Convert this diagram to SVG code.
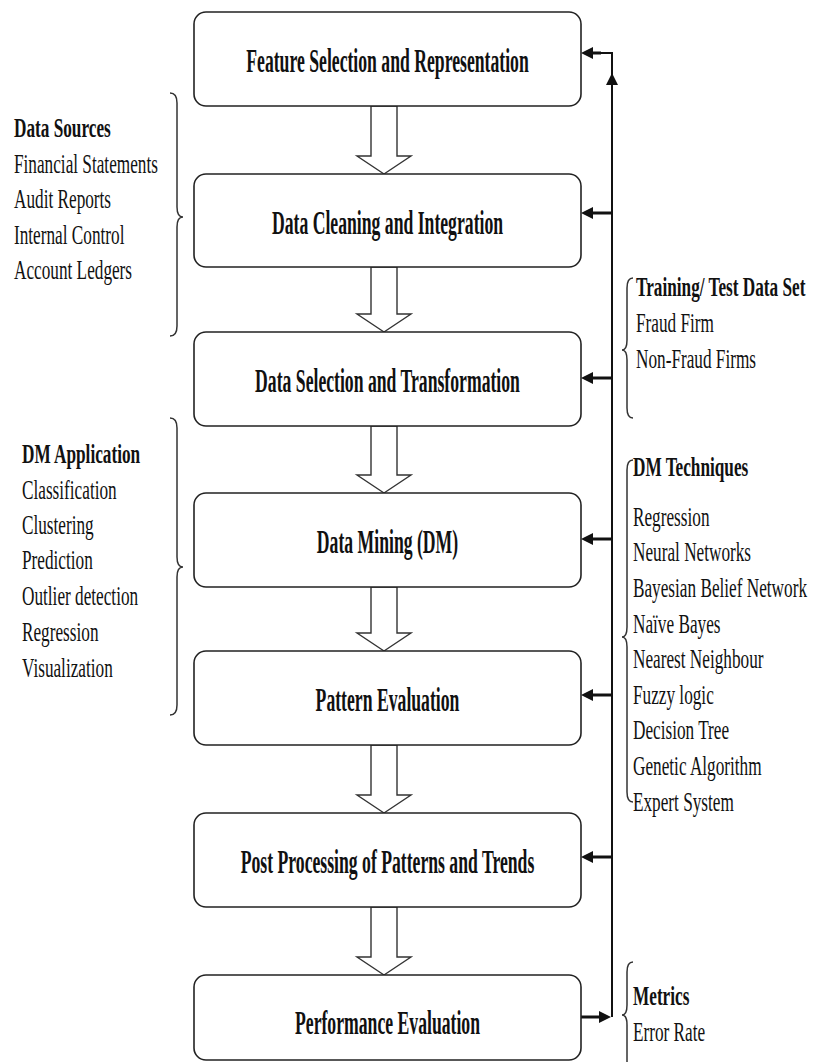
<svg xmlns="http://www.w3.org/2000/svg" width="813" height="1062" viewBox="0 0 813 1062">
<defs>
<style>
.box{fill:#fff;stroke:#222;stroke-width:1.6}
.bt{font-family:"Liberation Serif","Times New Roman",serif;font-weight:bold;font-size:34px;text-anchor:middle;fill:#111}
.st{font-family:"Liberation Serif","Times New Roman",serif;font-size:28px;fill:#111}
.sb{font-weight:bold}
.ha{fill:#fff;stroke:#333;stroke-width:1.4;stroke-linejoin:miter}
.ln{fill:none;stroke:#111;stroke-width:2}
.ar{fill:none;stroke:#111;stroke-width:3}
.br{fill:none;stroke:#333;stroke-width:1.5}
</style>
<marker id="ah" viewBox="0 0 12 12" refX="0" refY="6" markerWidth="12" markerHeight="12" markerUnits="userSpaceOnUse" orient="auto">
<path d="M0,0 L12,6 L0,12 z" fill="#111"/>
</marker>
</defs>
<rect width="813" height="1062" fill="#fff"/>

<g id="connectors">
<polygon class="ha" points="371,106 397,106 397,156 411,156 384,174 357,156 371,156"/>
<polygon class="ha" points="371,267 397,267 397,314 411,314 384,332 357,314 371,314"/>
<polygon class="ha" points="371,426 397,426 397,475 411,475 384,493 357,475 371,475"/>
<polygon class="ha" points="371,587 397,587 397,633 411,633 384,651 357,633 371,633"/>
<polygon class="ha" points="371,745 397,745 397,795 411,795 384,813 357,795 371,795"/>
<polygon class="ha" points="371,907 397,907 397,957 411,957 384,975 357,957 371,957"/>
<polyline class="ln" points="612,1017 612,53 600,53"/>
<line class="ar" x1="601" y1="53" x2="593" y2="53" marker-end="url(#ah)"/>
<line class="ln" x1="612" y1="90" x2="612" y2="85" marker-end="url(#ah)"/>
<line class="ar" x1="612" y1="213" x2="593" y2="213" marker-end="url(#ah)"/>
<line class="ar" x1="612" y1="378" x2="593" y2="378" marker-end="url(#ah)"/>
<line class="ar" x1="612" y1="539" x2="593" y2="539" marker-end="url(#ah)"/>
<line class="ar" x1="612" y1="695" x2="593" y2="695" marker-end="url(#ah)"/>
<line class="ar" x1="612" y1="857" x2="593" y2="857" marker-end="url(#ah)"/>
<line class="ar" x1="581" y1="1017" x2="599" y2="1017" marker-end="url(#ah)"/>
</g>

<g id="n1"><rect class="box" x="194" y="12" width="387" height="94" rx="12"/>
<text class="bt" transform="translate(387.5 72) scale(0.52 1)">Feature Selection and Representation</text></g>
<g id="n2"><rect class="box" x="194" y="174" width="387" height="93" rx="12"/>
<text class="bt" transform="translate(387.5 234) scale(0.52 1)">Data Cleaning and Integration</text></g>
<g id="n3"><rect class="box" x="194" y="332" width="387" height="94" rx="12"/>
<text class="bt" transform="translate(387.5 392) scale(0.52 1)">Data Selection and Transformation</text></g>
<g id="n4"><rect class="box" x="194" y="493" width="387" height="94" rx="12"/>
<text class="bt" transform="translate(387.5 553) scale(0.52 1)">Data Mining (DM)</text></g>
<g id="n5"><rect class="box" x="194" y="651" width="387" height="94" rx="12"/>
<text class="bt" transform="translate(387.5 711) scale(0.52 1)">Pattern Evaluation</text></g>
<g id="n6"><rect class="box" x="194" y="813" width="387" height="94" rx="12"/>
<text class="bt" transform="translate(387.5 873) scale(0.52 1)">Post Processing of Patterns and Trends</text></g>
<g id="n7"><rect class="box" x="194" y="975" width="387" height="85" rx="12"/>
<text class="bt" transform="translate(387.5 1034) scale(0.52 1)">Performance Evaluation</text></g>

<g id="data-sources">
<path class="br" d="M170,93 Q177,93 177,103 L177,207 Q177,217 183,217 Q177,217 177,227 L177,326 Q177,336 170,336"/>
<g transform="translate(14 0) scale(0.615 1)">
<text class="st sb" x="0" y="137">Data Sources</text>
<text class="st" x="0" y="173">Financial Statements</text>
<text class="st" x="0" y="208">Audit Reports</text>
<text class="st" x="0" y="244">Internal Control</text>
<text class="st" x="0" y="279">Account Ledgers</text>
</g></g>

<g id="dm-application">
<path class="br" d="M170,418 Q177,418 177,428 L177,557 Q177,567 183,567 Q177,567 177,577 L177,705 Q177,715 170,715"/>
<g transform="translate(22 0) scale(0.615 1)">
<text class="st sb" x="0" y="463">DM Application</text>
<text class="st" x="0" y="499">Classification</text>
<text class="st" x="0" y="534">Clustering</text>
<text class="st" x="0" y="569">Prediction</text>
<text class="st" x="0" y="605">Outlier detection</text>
<text class="st" x="0" y="641">Regression</text>
<text class="st" x="0" y="677">Visualization</text>
</g></g>

<g id="training">
<path class="br" d="M633,278 Q627,278 627,288 L627,340 Q627,350 622,350 Q627,350 627,360 L627,408 Q627,418 633,418"/>
<g transform="translate(636 0) scale(0.615 1)">
<text class="st sb" x="0" y="296">Training/ Test Data Set</text>
<text class="st" x="0" y="332">Fraud Firm</text>
<text class="st" x="0" y="368">Non-Fraud Firms</text>
</g></g>

<g id="dm-techniques">
<path class="br" d="M633,460 Q627,460 627,470 L627,627 Q627,637 622,637 Q627,637 627,647 L627,792 Q627,802 633,802"/>
<g transform="translate(633 0) scale(0.615 1)">
<text class="st sb" x="0" y="476">DM Techniques</text>
<text class="st" x="0" y="526">Regression</text>
<text class="st" x="0" y="561">Neural Networks</text>
<text class="st" x="0" y="597">Bayesian Belief Network</text>
<text class="st" x="0" y="633">Naïve Bayes</text>
<text class="st" x="0" y="668">Nearest Neighbour</text>
<text class="st" x="0" y="704">Fuzzy logic</text>
<text class="st" x="0" y="739">Decision Tree</text>
<text class="st" x="0" y="775">Genetic Algorithm</text>
<text class="st" x="0" y="811">Expert System</text>
</g></g>

<g id="metrics">
<path class="br" d="M633,962 Q627,962 627,972 L627,1005 Q627,1015 622,1015 Q627,1015 627,1025 L627,1062"/>
<g transform="translate(633 0) scale(0.615 1)">
<text class="st sb" x="0" y="1005">Metrics</text>
<text class="st" x="0" y="1041">Error Rate</text>
</g></g>
</svg>
